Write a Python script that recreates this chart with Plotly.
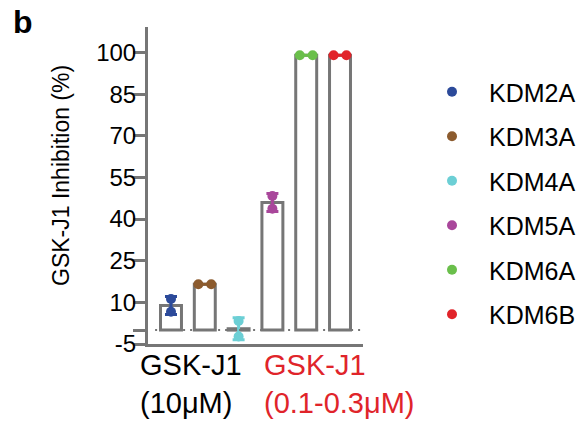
import math
import plotly.graph_objects as go

# ---- data ----
kdms = ["KDM2A", "KDM3A", "KDM4A", "KDM5A", "KDM6A", "KDM6B"]
rep1 = [11.2, 16.5, 3.3, 48.3, 99.0, 99.0]
rep2 = [6.6, 16.5, -2.3, 43.7, 99.0, 99.0]
colors = ["#2c4a9a", "#8c5b2e", "#6ccfd5", "#a9479b", "#6abf4b", "#e1242a"]
y_ticks = [-5, 0, 10, 25, 40, 55, 70, 85, 100]
y_ticktext = ["-5", "", "10", "25", "40", "55", "70", "85", "100"]
group_labels = ["GSK-J1<br>(10μM)", "GSK-J1<br>(0.1-0.3μM)"]
group_colors = ["#000000", "#e0242a"]

GRAY = "#767676"
FONT = "Liberation Sans, Arial, sans-serif"

pos = list(range(len(kdms)))
means = [(a + b) / 2 for a, b in zip(rep1, rep2)]
sds = [abs(a - b) / math.sqrt(2) for a, b in zip(rep1, rep2)]

fig = go.Figure()
fig.add_trace(go.Bar(
    x=pos, y=means, width=0.62,
    marker=dict(color="white", line=dict(color=GRAY, width=3)),
    showlegend=False, hoverinfo="skip"))

for i, k in enumerate(kdms):
    fig.add_trace(go.Scatter(
        x=[pos[i]], y=[means[i]], mode="markers",
        marker=dict(size=1, color="rgba(0,0,0,0)"),
        error_y=dict(type="data", array=[sds[i]], color=colors[i], thickness=3, width=6),
        showlegend=False, hoverinfo="skip"))

for i, k in enumerate(kdms):
    off = 0.19 if abs(rep1[i] - rep2[i]) < 1 else 0.0
    fig.add_trace(go.Scatter(
        x=[pos[i] - off, pos[i] + off], y=[rep1[i], rep2[i]], mode="markers",
        marker=dict(size=10, color=colors[i]),
        name=k, legendgroup=k))

fig.add_shape(type="line", xref="paper", yref="y", x0=0.033, x1=1, y0=0, y1=0,
              line=dict(color=GRAY, width=2, dash="2px,5px"), layer="above")

L, R, T, B = 148, 224, 27, 83
W, H = 587, 427
pw, ph = W - L - R, H - T - B

def px_x(x):
    return (x - L) / pw

def px_y(y):
    return (H - B - y) / ph

annots = [
    dict(text="<b>b</b>", x=px_x(23), y=px_y(22), xref="paper", yref="paper",
         xanchor="center", yanchor="middle",
         showarrow=False, font=dict(size=32, color="black", family=FONT)),
    dict(text="GSK-J1 Inhibition (%)", x=px_x(61), y=px_y(176), xref="paper", yref="paper",
         xanchor="center", yanchor="middle",
         textangle=-90, showarrow=False, font=dict(size=23, color="black", family=FONT)),
]
for lbl, col, lx in zip(group_labels, group_colors, [138, 262]):
    annots.append(dict(text=lbl, x=px_x(lx), y=px_y(347), xref="paper", yref="paper",
                       xanchor="left", yanchor="top", align="left", showarrow=False,
                       font=dict(size=29, color=col, family=FONT)))

fig.update_layout(
    width=W, height=H,
    margin=dict(l=L, r=R, t=T, b=B),
    paper_bgcolor="white", plot_bgcolor="white",
    font=dict(family=FONT, color="black"),
    barmode="overlay",
    xaxis=dict(range=[-0.68, 5.68], showgrid=False, zeroline=False, showticklabels=False,
               showline=True, linecolor=GRAY, linewidth=3, ticks=""),
    yaxis=dict(range=[-5, 109.2], showgrid=False, zeroline=False,
               showline=True, linecolor=GRAY, linewidth=3,
               tickmode="array", tickvals=y_ticks, ticktext=y_ticktext,
               ticks="outside", ticklen=12, tickwidth=3, tickcolor=GRAY,
               ticklabelstandoff=-8,
               tickfont=dict(size=24, color="black", family=FONT)),
    legend=dict(xref="container", yref="container", x=415 / W, y=1 - 69 / H,
                xanchor="left", yanchor="top", itemwidth=64, maxheight=420,
                tracegroupgap=9, font=dict(size=25, color="black", family=FONT),
                bgcolor="rgba(0,0,0,0)"),
    annotations=annots,
)

fig.write_html("out.html")
